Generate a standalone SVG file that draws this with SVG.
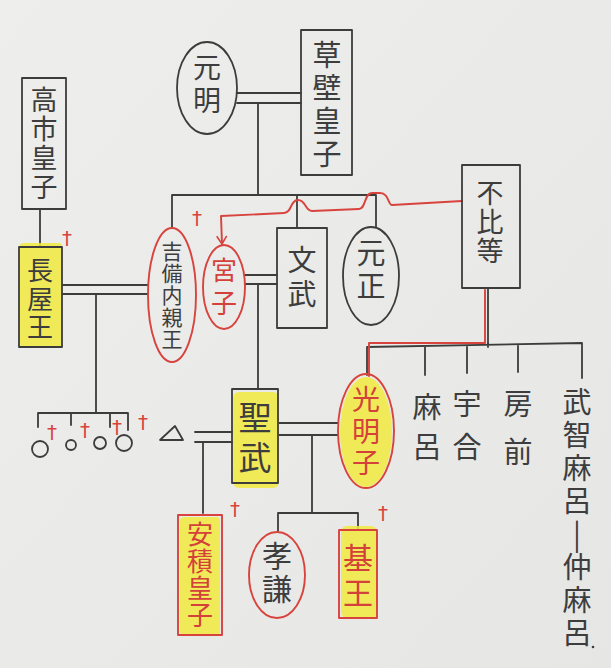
<svg xmlns="http://www.w3.org/2000/svg" width="611" height="668" viewBox="0 0 611 668">
<defs>
<style>
.ln{stroke:#3c3c3c;stroke-width:1.8;fill:none;stroke-linecap:round;stroke-linejoin:round}
.rd{stroke:#d8433d;stroke-width:1.9;fill:none;stroke-linecap:round;stroke-linejoin:round}
.hl{fill:#f2ea3e;opacity:0.85}
.t{font-family:"Noto Sans CJK JP","Noto Sans CJK SC",sans-serif;fill:#3d3d3d;text-anchor:middle;writing-mode:vertical-rl;text-orientation:upright}
.tr{fill:#d4413a}
.dg{font-family:"DejaVu Sans",sans-serif;fill:#d8433d;text-anchor:middle;dominant-baseline:central;font-size:20px}
</style>
<marker id="arr" viewBox="0 0 12 12" refX="11" refY="6" markerWidth="12" markerHeight="12" markerUnits="userSpaceOnUse" orient="auto">
<path d="M3,1 L11,6 L3,11" fill="none" stroke="#d8433d" stroke-width="1.6"/>
</marker>
<linearGradient id="paper" x1="0" y1="0" x2="1" y2="1">
<stop offset="0" stop-color="#eeeeec"/>
<stop offset="1" stop-color="#e6e6e4"/>
</linearGradient>
</defs>
<rect x="0" y="0" width="611" height="668" fill="url(#paper)"/>

<g id="connectors">
<path class="ln" d="M237,93 H301 M237,103 H301"/>
<path class="ln" d="M258,103 V195"/>
<path class="ln" d="M172,195 H376 M172,195 V228 M297,195 V228 M376,195 V227"/>
<path class="ln" d="M40,209 V247"/>
<path class="ln" d="M62,285 H148 M62,294 H148 M96,294 V413"/>
<path class="ln" d="M38,413 H128 M38,413 V427 M71,413 V425 M110,413 V427 M128,413 V430"/>
<path class="ln" d="M245,275 H277 M245,284 H277 M258,284 V389"/>
<path class="ln" d="M195,432 H232 M195,442 H232 M203,442 V513"/>
<path class="ln" d="M278,423 H338 M278,435 H338 M312,435 V513 M278,513 H358 M278,513 V531 M358,513 V530"/>
<path class="ln" d="M488,288 V347 M367,347 L582,343 M367,347 V375 M425,346 V375 M467,346 V373 M518,345 V372 M582,343 V378"/>
<path class="rd" d="M485,290 V343 H369 V376"/>
<path class="rd" d="M462,201 L392,205 C388,205 389,193 380,193 L372,193 C364,193 366,209 359,209 L312,211 C305,211 306,200 298,200 C290,200 292,213 284,213 L221,216 L222,244" marker-end="url(#arr)"/>
</g>

<g id="takechi">
<rect class="ln" x="22" y="78" width="44" height="131"/>
<text class="t" x="44" y="144" font-size="27" letter-spacing="2">高市皇子</text>
</g>

<g id="genmei">
<ellipse class="ln" cx="207" cy="88" rx="30" ry="46"/>
<text class="t" x="207" y="86" font-size="28" letter-spacing="5">元明</text>
</g>

<g id="kusakabe">
<rect class="ln" x="301" y="30" width="51" height="145"/>
<text class="t" x="327" y="106" font-size="29" letter-spacing="4">草壁皇子</text>
</g>

<g id="nagaya">
<rect class="hl" x="20" y="243" width="42" height="104" rx="3"/>
<rect class="ln" x="19" y="247" width="43" height="100"/>
<text class="t" x="40" y="300" font-size="26" letter-spacing="2.5">長屋王</text>
<text class="dg" x="67" y="238">†</text>
</g>

<g id="kibi">
<ellipse class="rd" cx="172" cy="295" rx="24" ry="67"/>
<text class="t" x="172" y="296" font-size="21" letter-spacing="1">吉備内親王</text>
<text class="dg" x="197" y="218">†</text>
</g>

<g id="miyako">
<ellipse class="rd" cx="224" cy="287" rx="21" ry="42"/>
<text class="t tr" x="224" y="290" font-size="26" letter-spacing="7">宮子</text>
</g>

<g id="monmu">
<rect class="ln" x="277" y="228" width="50" height="100"/>
<text class="t" x="302" y="279" font-size="29" letter-spacing="5">文武</text>
</g>

<g id="gensho">
<ellipse class="ln" cx="371" cy="276" rx="28" ry="49"/>
<text class="t" x="371" y="271" font-size="29" letter-spacing="4">元正</text>
</g>

<g id="fuhito">
<rect class="ln" x="462" y="165" width="58" height="123"/>
<text class="t" x="490" y="223" font-size="27" letter-spacing="2">不比等</text>
</g>

<g id="nagaya-children">
<circle class="ln" cx="40" cy="449" r="8"/>
<circle class="ln" cx="71" cy="445" r="5"/>
<circle class="ln" cx="100" cy="443" r="6"/>
<circle class="ln" cx="124" cy="443" r="8"/>
<text class="dg" x="52" y="432">†</text>
<text class="dg" x="85" y="430">†</text>
<text class="dg" x="117" y="427">†</text>
<text class="dg" x="143" y="422">†</text>
</g>

<g id="consort">
<polygon class="ln" points="175,426 160,440 183,440"/>
</g>

<g id="shomu">
<rect class="hl" x="233" y="392" width="46" height="96" rx="6"/>
<rect class="ln" x="232" y="389" width="46" height="94"/>
<text class="t" x="255" y="441" font-size="33" letter-spacing="7">聖武</text>
</g>

<g id="komyoshi">
<ellipse class="hl" cx="366" cy="432" rx="26" ry="55"/>
<ellipse class="rd" cx="366" cy="431" rx="28" ry="57"/>
<text class="t tr" x="366" y="433" font-size="28" letter-spacing="3.5">光明子</text>
</g>

<g id="maro">
<text class="t" x="427" y="432" font-size="29" letter-spacing="11">麻呂</text>
</g>
<g id="umakai">
<text class="t" x="467" y="432" font-size="29" letter-spacing="14">宇合</text>
</g>
<g id="fusasaki">
<text class="t" x="518" y="437" font-size="29" letter-spacing="19">房前</text>
</g>
<g id="muchimaro">
<text class="t" x="577" y="519" font-size="29" letter-spacing="4">武智麻呂|仲麻呂</text>
<circle cx="593" cy="647" r="1.3" fill="#3c3c3c"/>
</g>

<g id="asaka">
<rect class="hl" x="180" y="517" width="40" height="118" rx="4"/>
<rect class="rd" x="178" y="515" width="44" height="120"/>
<text class="t tr" x="200" y="575" font-size="26" letter-spacing="1">安積皇子</text>
<text class="dg" x="235" y="509">†</text>
</g>

<g id="koken">
<ellipse class="rd" cx="277" cy="575" rx="28" ry="43"/>
<text class="t" x="277" y="574" font-size="30" letter-spacing="3">孝謙</text>
</g>

<g id="motoi">
<rect class="hl" x="341" y="526" width="36" height="92" rx="6"/>
<rect class="rd" x="339" y="530" width="38" height="88"/>
<text class="t tr" x="358" y="578" font-size="30" letter-spacing="5">基王</text>
<text class="dg" x="383" y="513">†</text>
</g>
</svg>
